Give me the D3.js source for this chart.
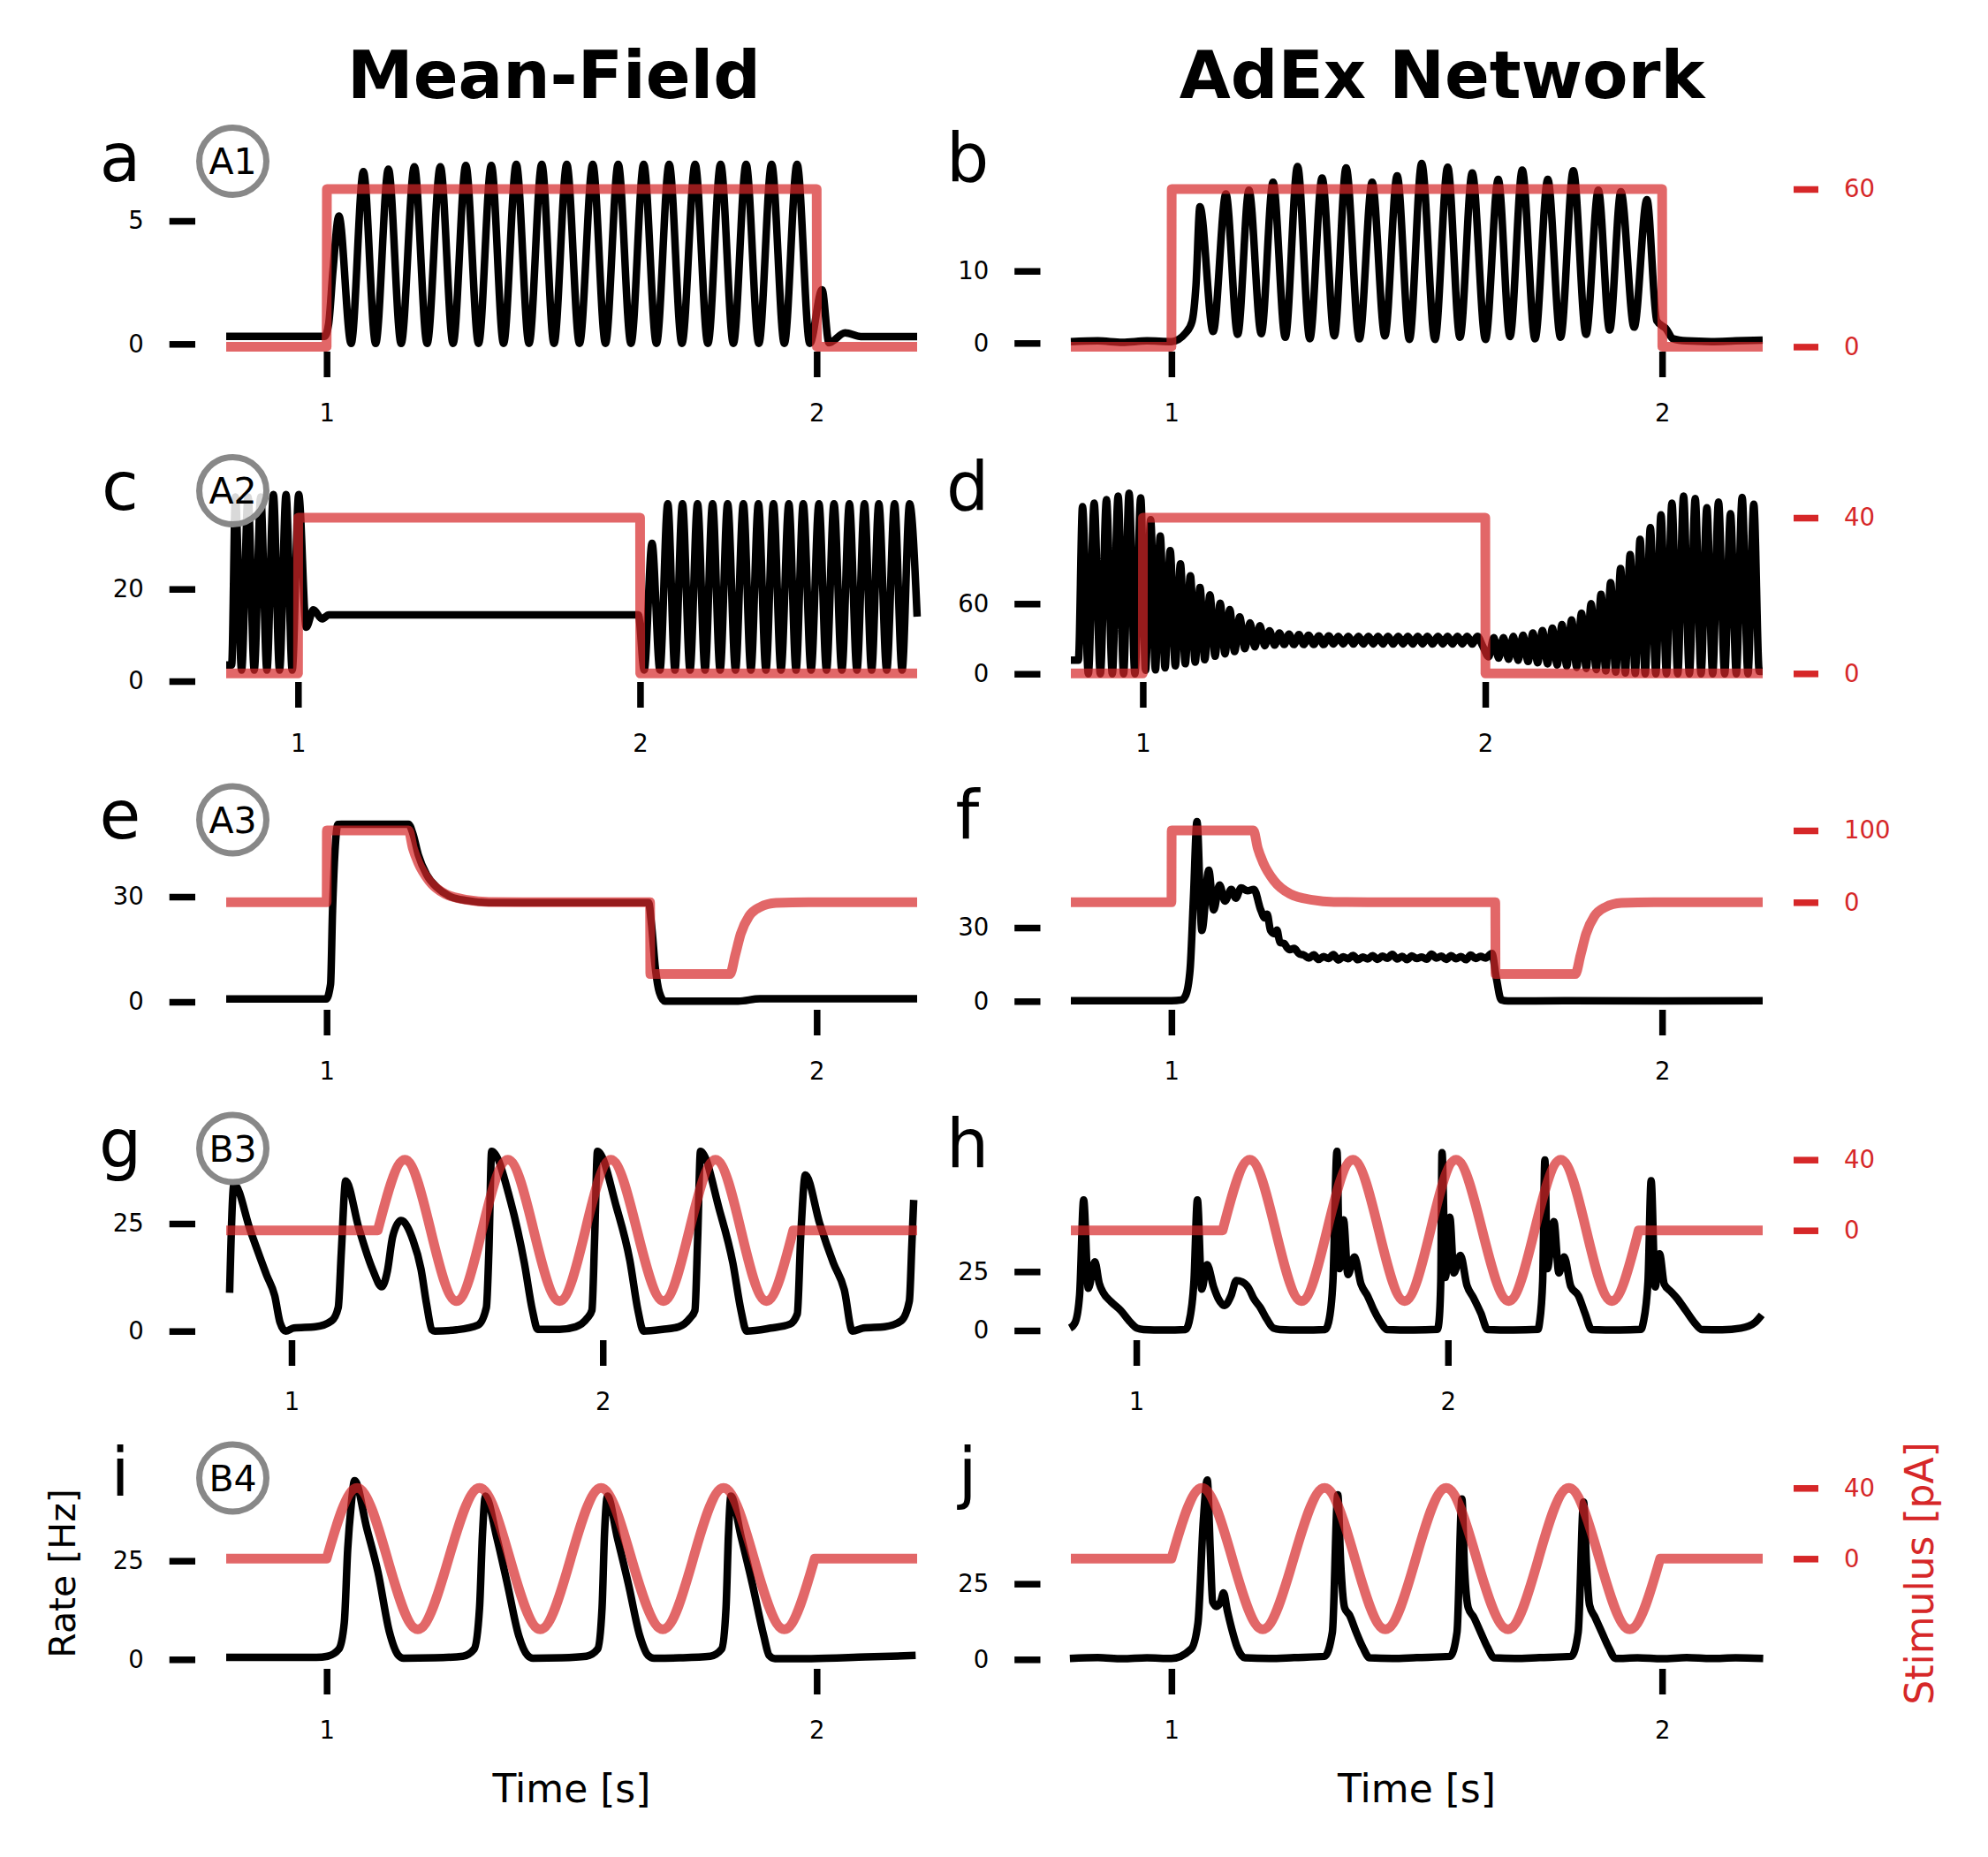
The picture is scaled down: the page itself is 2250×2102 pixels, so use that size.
<!DOCTYPE html>
<html><head><meta charset="utf-8">
<script src="https://cdn.jsdelivr.net/npm/d3@7"></script>
<style>
html,body{margin:0;padding:0;background:#fff;}
svg{display:block;}
text{font-family:"DejaVu Sans",sans-serif;}
</style></head><body>
<svg id="chart" width="2250" height="2102"></svg>
<script>
// ---------------- texts / categories ----------------
const columnTitles = ['Mean-Field', 'AdEx Network'];
const badgeLabels = ['A1', 'A2', 'A3', 'B3', 'B4'];
const xTickValues = [1, 2];
const xLabel = 'Time [s]';
const yLabel = 'Rate [Hz]';
const y2Label = 'Stimulus [pA]';

// ---------------- tick values ----------------
const rateTicksA = [0, 5], rateTicksB = [0, 10], rateTicksC = [0, 20], rateTicksD = [0, 60];
const rateTicksE = [0, 30], rateTicksF = [0, 30], rateTicksG = [0, 25], rateTicksH = [0, 25];
const rateTicksI = [0, 25], rateTicksJ = [0, 25];
const stimTicks1 = [0, 60], stimTicks2 = [0, 40], stimTicks3 = [0, 100], stimTicks4 = [0, 40], stimTicks5 = [0, 40];

// ---------------- time extents (s) ----------------
const tRange1 = [0.795, 2.205], tRange2 = [0.79, 2.81], tRange3 = [0.795, 2.205], tRange4 = [0.79, 3.01], tRange5 = [0.795, 2.205];

// ---------------- stimuli [time s, pA] ----------------
const stim1 = [[0.795,0],[1.0,0],[1.0005,60],[2.0,60],[2.0005,0],[2.205,0]];
const stim2 = [[0.79,0],[1.0,0],[1.0005,40],[2.0,40],[2.0005,0],[2.81,0]];
const stim3 = [[0.795,0],[1.0,0],[1.0005,100],[1.167,100],[1.176,75],[1.187,55],[1.209,30],[1.242,11.5],[1.287,3.3],[1.331,0.4],[1.40,0],[1.66,0],[1.6605,-100],[1.823,-100],[1.834,-73],[1.845,-44],[1.862,-19.4],[1.884,-7],[1.917,-1],[1.983,0],[2.205,0]];
const stim4 = [[0.79,0],[1.277,0],[1.364,40],[1.447,0],[1.530,-40],[1.612,0],[1.695,40],[1.778,0],[1.861,-40],[1.944,0],[2.026,40],[2.110,0],[2.195,-40],[2.278,0],[2.362,40],[2.444,0],[2.526,-40],[2.612,0],[3.01,0]];
const stim5 = [[0.795,0],[1.0,0],[1.062,40],[1.124,0],[1.186,-40],[1.249,0],[1.312,40],[1.374,0],[1.436,-40],[1.498,0],[1.560,40],[1.622,0],[1.686,-40],[1.748,0],[1.810,40],[1.872,0],[1.934,-40],[1.996,0],[2.205,0]];

// ---------------- firing rates [time s, Hz] ----------------
const aRate = [[0.795,0.31],[0.996,0.31],[1.004,0.8],[1.013,3.0],[1.025,5.2],[1.050,0.02],[1.075,7.0],[1.100,0.02],[1.126,7.1],[1.152,0.02],[1.179,7.2],[1.205,0.02],[1.232,7.2],[1.258,0.02],[1.284,7.25],[1.310,0.02],[1.336,7.25],[1.361,0.02],[1.387,7.3],[1.413,0.02],[1.439,7.3],[1.464,0.02],[1.490,7.3],[1.516,0.02],[1.543,7.3],[1.569,0.02],[1.595,7.3],[1.621,0.02],[1.647,7.3],[1.673,0.02],[1.699,7.3],[1.725,0.02],[1.752,7.3],[1.778,0.02],[1.804,7.3],[1.830,0.02],[1.856,7.3],[1.882,0.02],[1.908,7.3],[1.934,0.02],[1.960,7.3],[1.986,0.02],[2.011,2.2],[2.025,0.05],[2.058,0.45],[2.09,0.3],[2.205,0.3]];

const bRate = [[0.795,0.2],[0.85,0.3],[0.9,0.1],[0.95,0.3],[1.0,0.2],[1.029,1.4],[1.042,3.0],[1.050,8],[1.058,18.9],[1.085,1.6],[1.111,20.7],[1.135,1.2],[1.158,21.2],[1.183,1.3],[1.207,22.3],[1.232,0.8],[1.257,24.5],[1.282,0.6],[1.307,22.9],[1.332,1.0],[1.356,24.3],[1.383,0.6],[1.409,22.3],[1.435,1.0],[1.460,23.2],[1.485,0.5],[1.510,24.9],[1.537,0.5],[1.563,24.4],[1.588,0.8],[1.613,23.6],[1.640,0.5],[1.666,22.7],[1.690,0.9],[1.715,24.0],[1.741,0.6],[1.767,22.7],[1.793,0.8],[1.819,23.9],[1.845,1.2],[1.870,21.2],[1.893,1.8],[1.916,21.0],[1.943,2.2],[1.969,19.9],[1.989,3.1],[2.009,1.9],[2.022,0.6],[2.05,0.3],[2.1,0.2],[2.15,0.3],[2.205,0.4]];

const cRate = [[0.79,3.5],[0.806,3.5],[0.817,40],[0.835,2.4],[0.854,40],[0.872,2.4],[0.891,40],[0.909,2.4],[0.928,40.5],[0.946,2.4],[0.965,40.5],[0.983,2.4],[1.002,40.5],[1.024,11.7],[1.045,15.5],[1.070,13.5],[1.090,14.4],[1.995,14.4],[2.012,2.4],[2.035,29.9],[2.058,2.4],[2.081,38.5],[2.102,2.4],[2.124,38.5],[2.146,2.4],[2.168,38.5],[2.190,2.4],[2.212,38.5],[2.234,2.4],[2.256,38.5],[2.279,2.4],[2.302,38.5],[2.324,2.4],[2.346,38.5],[2.368,2.4],[2.390,38.5],[2.412,2.4],[2.435,38.5],[2.456,2.4],[2.477,38.5],[2.500,2.4],[2.523,38.5],[2.545,2.4],[2.567,38.5],[2.590,2.4],[2.612,38.5],[2.634,2.4],[2.656,38.5],[2.677,2.4],[2.698,38.5],[2.721,2.4],[2.744,38.5],[2.766,2.4],[2.788,38.5],[2.81,14]];

const dRate = [[0.79,11.6],[0.812,11.6],[0.824,143],[0.841,0],[0.858,146],[0.876,0],[0.894,149],[0.911,0],[0.928,152],[0.944,0],[0.960,154.5],[0.977,0],[0.994,150.5],[1.008,3],[1.023,131.8],[1.037,3.3],[1.051,117.9],[1.065,5],[1.080,105.4],[1.095,6.8],[1.110,94],[1.124,8.6],[1.139,83.9],[1.153,10],[1.167,73.8],[1.181,12],[1.196,67.6],[1.211,15],[1.226,60.5],[1.240,17],[1.254,55],[1.268,19],[1.283,48.7],[1.298,21.5],[1.313,43.6],[1.327,23],[1.342,41.1],[1.356,24],[1.370,36.8],[1.385,24.5],[1.399,35],[1.413,25],[1.427,34],[1.441,25],[1.456,33.5],[1.470,25],[1.484,33],[1.499,25],[1.514,32.5],[1.528,25],[1.543,32.5],[1.557,25.5],[1.571,32],[1.585,25.5],[1.600,32],[1.615,25.5],[1.630,32],[1.644,25.5],[1.659,32],[1.673,25.5],[1.687,32],[1.701,25.5],[1.716,32],[1.731,25.5],[1.746,32],[1.760,25.5],[1.774,32],[1.788,25.5],[1.803,32],[1.817,25.5],[1.831,32],[1.846,25.5],[1.862,32],[1.876,25.5],[1.890,32],[1.904,25.5],[1.919,32],[1.933,25.5],[1.947,32],[1.962,25.5],[1.977,32],[1.992,24],[2.010,14.6],[2.025,31],[2.039,13.4],[2.053,31],[2.068,12.5],[2.082,32],[2.096,11.5],[2.110,33],[2.125,10.5],[2.139,35],[2.153,9.5],[2.167,37],[2.182,8.5],[2.196,39],[2.210,7.5],[2.224,42],[2.238,6.5],[2.252,46],[2.267,5.5],[2.281,52],[2.295,4.5],[2.309,60],[2.324,3.5],[2.338,68],[2.352,2.5],[2.366,78],[2.381,1.5],[2.395,90],[2.409,0.8],[2.423,102],[2.438,0.3],[2.452,115],[2.467,0],[2.482,125],[2.498,0],[2.513,136],[2.529,0],[2.545,146],[2.562,0],[2.579,152],[2.596,0],[2.613,150],[2.630,0],[2.647,142],[2.664,0],[2.681,147],[2.699,0],[2.716,137],[2.733,0],[2.750,151],[2.767,0],[2.784,145],[2.800,2],[2.81,2]];

const eRate = [[0.795,0.8],[0.999,0.8],[1.008,5],[1.012,26],[1.017,43],[1.023,50.6],[1.030,50.7],[1.167,50.7],[1.176,48],[1.187,42],[1.204,36.3],[1.226,32.5],[1.253,30],[1.287,28.9],[1.331,28.3],[1.657,28.3],[1.663,22],[1.671,9.4],[1.679,2.7],[1.690,0.2],[1.840,0.2],[1.884,0.9],[2.205,0.9]];

const fRate = [[0.795,0.2],[1.0,0.2],[1.020,0.5],[1.029,2.4],[1.038,13],[1.045,43],[1.052,73.2],[1.062,28.8],[1.076,53.4],[1.086,37.2],[1.098,47.4],[1.109,40.8],[1.122,45.6],[1.131,42],[1.142,46.2],[1.155,45],[1.168,45.6],[1.182,37.2],[1.19,34],[1.195,35.5],[1.202,28.8],[1.21,27.5],[1.215,29],[1.221,24],[1.23,23.5],[1.235,22],[1.241,21],[1.25,21.5],[1.261,19.2],[1.27,18.8],[1.28,17.6],[1.29,18.9],[1.30,17.0],[1.31,18.2],[1.32,17.4],[1.33,19.0],[1.34,16.8],[1.35,18.1],[1.36,17.3],[1.37,18.7],[1.38,16.9],[1.39,18.0],[1.40,17.2],[1.41,18.6],[1.42,17.0],[1.43,18.4],[1.44,17.5],[1.45,19.1],[1.46,17.2],[1.47,18.3],[1.48,16.9],[1.49,18.5],[1.50,17.4],[1.51,18.0],[1.52,17.1],[1.53,19.2],[1.54,17.6],[1.55,18.4],[1.56,17.0],[1.57,18.6],[1.58,17.3],[1.59,18.2],[1.60,16.9],[1.61,18.8],[1.62,17.4],[1.63,18.3],[1.64,17.6],[1.653,19.5],[1.662,9.6],[1.672,0.6],[1.686,0.1],[1.8,0.2],[2.0,0.1],[2.205,0.2]];

const gRate = [[0.801,8.9],[0.815,34.2],[0.868,23.3],[0.920,13],[0.946,8.2],[0.963,2],[0.981,0],[1.007,0.7],[1.077,1.0],[1.129,2.4],[1.150,5.5],[1.160,18.5],[1.174,34.9],[1.216,24],[1.260,14.4],[1.290,10.3],[1.308,14],[1.325,22],[1.352,25.7],[1.390,21.2],[1.416,14.4],[1.434,6.2],[1.451,0.3],[1.460,0],[1.530,0.3],[1.599,1.4],[1.626,5.5],[1.634,18.5],[1.643,41.8],[1.704,30.1],[1.748,15.8],[1.774,4.8],[1.791,0.4],[1.861,0.4],[1.913,1.0],[1.950,3],[1.965,4.8],[1.974,21.9],[1.983,41.8],[2.044,28.8],[2.087,16.4],[2.113,4.8],[2.131,0],[2.192,0.4],[2.244,1.0],[2.280,3],[2.296,4.8],[2.305,21.9],[2.314,41.8],[2.375,28.1],[2.418,15.8],[2.444,4.8],[2.462,0],[2.540,0.7],[2.601,1.6],[2.625,4],[2.636,22],[2.651,36.3],[2.697,25],[2.741,15.8],[2.776,9.6],[2.802,0],[2.837,0.7],[2.906,1.0],[2.959,2.4],[2.985,7],[2.993,20],[2.999,30.5]];

const hRate = [[0.787,1],[0.804,3.5],[0.818,15],[0.831,55.4],[0.846,17.9],[0.867,29.1],[0.881,20],[0.894,16],[0.919,12.2],[0.950,8.5],[0.981,3.5],[1.002,1],[1.023,0.4],[1.09,0.2],[1.158,0.4],[1.169,3.5],[1.185,21],[1.196,55.4],[1.210,17.5],[1.227,27.9],[1.248,18.5],[1.263,13.5],[1.283,10.6],[1.304,14.7],[1.321,21.2],[1.340,20.6],[1.360,18.1],[1.377,13.5],[1.398,9.7],[1.419,4.75],[1.440,1],[1.461,0.4],[1.53,0.2],[1.606,0.4],[1.617,3.5],[1.631,21],[1.644,76],[1.652,26.2],[1.665,46.9],[1.679,23.7],[1.700,31.2],[1.721,19.7],[1.742,14.7],[1.763,8.5],[1.784,3.5],[1.804,0.4],[1.89,0.2],[1.966,0.5],[1.971,3.5],[1.977,21],[1.981,75.4],[1.992,22.5],[2.006,48.1],[2.019,24.4],[2.040,31.9],[2.061,19.1],[2.081,14.1],[2.106,7.2],[2.127,0.4],[2.21,0.2],[2.289,0.5],[2.294,3.5],[2.304,21],[2.311,72.3],[2.319,26.2],[2.340,46.2],[2.356,24.4],[2.373,31.2],[2.394,18.8],[2.419,14.7],[2.440,7.2],[2.461,0.4],[2.55,0.2],[2.620,0.5],[2.627,3.5],[2.642,21],[2.652,63.5],[2.665,18.5],[2.679,32.5],[2.694,19.7],[2.715,16.6],[2.736,13.5],[2.763,8.5],[2.790,3.5],[2.815,0.4],[2.88,0.3],[2.940,1],[2.986,3.5],[3.007,6.6]];

const iRate = [[0.795,0.5],[0.979,0.5],[1.002,0.8],[1.025,2.6],[1.036,9.3],[1.043,28],[1.050,39],[1.057,45.3],[1.082,33.2],[1.105,22],[1.128,7],[1.146,1.1],[1.157,0.3],[1.22,0.4],[1.278,0.8],[1.301,2.6],[1.312,13],[1.318,31.7],[1.324,41.4],[1.347,31],[1.369,19],[1.392,6],[1.410,1],[1.421,0.3],[1.48,0.4],[1.530,0.8],[1.553,2.6],[1.562,13],[1.567,31.7],[1.573,41.4],[1.593,31],[1.616,19],[1.639,6],[1.656,1],[1.668,0.3],[1.72,0.4],[1.783,0.8],[1.806,2.6],[1.815,13],[1.820,31.7],[1.825,41.4],[1.846,31],[1.869,19],[1.892,6],[1.903,1],[1.915,0.2],[1.989,0.2],[2.10,0.6],[2.202,1.0]];

const jRate = [[0.793,0.3],[0.85,0.6],[0.90,0.2],[0.95,0.5],[1.00,0.3],[1.040,3.4],[1.054,12],[1.065,46],[1.073,59.3],[1.079,36.5],[1.084,19],[1.092,17.5],[1.101,19.4],[1.106,22],[1.114,16],[1.123,10],[1.134,4],[1.150,0.5],[1.20,0.3],[1.25,0.6],[1.312,1.0],[1.328,9],[1.339,54.4],[1.345,31.6],[1.353,17],[1.363,14.6],[1.376,9.2],[1.390,4],[1.404,0.5],[1.45,0.3],[1.50,0.6],[1.568,1.0],[1.582,9],[1.592,53],[1.597,31],[1.605,17],[1.616,14],[1.630,9],[1.644,4],[1.658,0.5],[1.70,0.3],[1.75,0.6],[1.815,1.0],[1.829,9],[1.840,52],[1.846,31],[1.852,18],[1.863,14],[1.877,9],[1.891,4],[1.905,0.3],[1.95,0.5],[2.0,0.2],[2.05,0.6],[2.10,0.3],[2.15,0.5],[2.206,0.3]];

// ---------------- layout (pixels) ----------------
const RED = '#d62728';
const FONT = '"DejaVu Sans", sans-serif';
const COLS = [
  {x0:256, x1:1038, axisX:221, letterX:136, titleX:627, xlabelX:647},
  {x0:1212, x1:1995, axisX:1177.5, letterX:1095, titleX:1632, xlabelX:1603.5}
];
const ROWS = [
  {tickY:398,  letterY:205,  badgeY:182.5, stimY:[392.4,214]},
  {tickY:772,  letterY:577,  badgeY:555.5, stimY:[762.3,586]},
  {tickY:1143, letterY:949,  badgeY:928,   stimY:[1021.3,940]},
  {tickY:1517, letterY:1321, badgeY:1300,  stimY:[1392.7,1312.7]},
  {tickY:1889, letterY:1693, badgeY:1673,  stimY:[1764.3,1684.3]}
];
const RATE_Y = {a:[389.3,250], b:[388.3,306.7], c:[771,666.7], d:[762.7,683.3], e:[1134,1015],
                f:[1133.3,1050], g:[1506.7,1385], h:[1506,1439.3], i:[1878.3,1766.7], j:[1878.3,1792.7]};

const panels = [
  {L:'a', row:0, col:0, rate:aRate, rTicks:rateTicksA, stim:stim1, sTicks:stimTicks1, t:tRange1, sCurve:'linear'},
  {L:'b', row:0, col:1, rate:bRate, rTicks:rateTicksB, stim:stim1, sTicks:stimTicks1, t:tRange1, sCurve:'linear'},
  {L:'c', row:1, col:0, rate:cRate, rTicks:rateTicksC, stim:stim2, sTicks:stimTicks2, t:tRange2, sCurve:'linear'},
  {L:'d', row:1, col:1, rate:dRate, rTicks:rateTicksD, stim:stim2, sTicks:stimTicks2, t:tRange2, sCurve:'linear'},
  {L:'e', row:2, col:0, rate:eRate, rTicks:rateTicksE, stim:stim3, sTicks:stimTicks3, t:tRange3, sCurve:'monotone'},
  {L:'f', row:2, col:1, rate:fRate, rTicks:rateTicksF, stim:stim3, sTicks:stimTicks3, t:tRange3, sCurve:'monotone'},
  {L:'g', row:3, col:0, rate:gRate, rTicks:rateTicksG, stim:stim4, sTicks:stimTicks4, t:tRange4, sCurve:'sine'},
  {L:'h', row:3, col:1, rate:hRate, rTicks:rateTicksH, stim:stim4, sTicks:stimTicks4, t:tRange4, sCurve:'sine'},
  {L:'i', row:4, col:0, rate:iRate, rTicks:rateTicksI, stim:stim5, sTicks:stimTicks5, t:tRange5, sCurve:'sine'},
  {L:'j', row:4, col:1, rate:jRate, rTicks:rateTicksJ, stim:stim5, sTicks:stimTicks5, t:tRange5, sCurve:'sine'}
];

const svg = d3.select('#chart');
svg.append('rect').attr('width', 2250).attr('height', 2102).attr('fill', '#fff');

function stimPath(data, mode, x, y) {
  const lin = d3.line().x(d => x(d[0])).y(d => y(d[1]));
  if (mode === 'linear') return lin(data);
  if (mode === 'monotone') return lin.curve(d3.curveMonotoneX)(data);
  const s = data.findIndex(d => d[1] !== 0) - 1;
  let e = data.length - 1;
  while (data[e][1] === 0) e--;
  e++;
  const nat = d3.line().x(d => x(d[0])).y(d => y(d[1])).curve(d3.curveNatural);
  const parts = [lin(data.slice(0, s + 1)), nat(data.slice(s, e + 1)), lin(data.slice(e))];
  return parts.map((p, i) => i ? p.replace(/^M/, 'L') : p).join('');
}

panels.forEach((p) => {
  const C = COLS[p.col], R = ROWS[p.row];
  const x = d3.scaleLinear().domain(p.t).range([C.x0, C.x1]);
  const y = d3.scaleLinear().domain([0, p.rTicks[1]]).range(RATE_Y[p.L]);
  const ys = d3.scaleLinear().domain([0, p.sTicks[1]]).range(R.stimY);
  const g = svg.append('g');

  const rateLine = d3.line().x(d => x(d[0])).y(d => y(d[1])).curve(d3.curveMonotoneX);
  g.append('path').datum(p.rate).attr('d', rateLine)
    .attr('fill', 'none').attr('stroke', '#000').attr('stroke-width', 8.5)
    .attr('stroke-linejoin', 'round').attr('stroke-linecap', 'butt');

  g.append('path').attr('d', stimPath(p.stim, p.sCurve, x, ys))
    .attr('fill', 'none').attr('stroke', RED).attr('stroke-opacity', 0.7).attr('stroke-width', 11)
    .attr('stroke-linejoin', 'round').attr('stroke-linecap', 'butt');

  const ga = svg.append('g').attr('transform', `translate(${C.axisX},0)`)
    .call(d3.axisLeft(y).tickValues(p.rTicks).tickSize(29.3).tickPadding(29).tickFormat(d3.format('d')));
  ga.select('.domain').remove();
  ga.attr('font-family', FONT).attr('font-size', 27.5);
  ga.selectAll('line').attr('stroke', '#000').attr('stroke-width', 7.5);
  ga.selectAll('text').attr('fill', '#000');

  const gx = svg.append('g').attr('transform', `translate(0,${R.tickY})`)
    .call(d3.axisBottom(x).tickValues(xTickValues).tickSize(29).tickFormat(d3.format('d')));
  gx.select('.domain').remove();
  gx.attr('font-family', FONT).attr('font-size', 27.5);
  gx.selectAll('line').attr('stroke', '#000').attr('stroke-width', 7.5);
  gx.selectAll('text').attr('fill', '#000').attr('y', 69.5).attr('dy', '0.35em');

  if (p.col === 1) {
    const gr = svg.append('g').attr('transform', 'translate(2030,0)')
      .call(d3.axisRight(ys).tickValues(p.sTicks).tickSize(28).tickPadding(29).tickFormat(d3.format('d')));
    gr.select('.domain').remove();
    gr.attr('font-family', FONT).attr('font-size', 27.5);
    gr.selectAll('line').attr('stroke', RED).attr('stroke-width', 7.5);
    gr.selectAll('text').attr('fill', RED);
  }

  svg.append('text').attr('x', C.letterX).attr('y', R.letterY).attr('text-anchor', 'middle')
    .attr('font-family', FONT).attr('font-size', 76).attr('fill', '#000').text(p.L);

  if (p.col === 0) {
    svg.append('circle').attr('cx', 263.5).attr('cy', R.badgeY).attr('r', 38)
      .attr('fill', '#fff').attr('fill-opacity', 0.85).attr('stroke', '#888').attr('stroke-width', 7);
    svg.append('text').attr('x', 263.5).attr('y', R.badgeY).attr('dy', '0.36em').attr('text-anchor', 'middle')
      .attr('font-family', FONT).attr('font-size', 41).attr('fill', '#000').text(badgeLabels[p.row]);
  }
});

columnTitles.forEach((t, i) => {
  svg.append('text').attr('x', COLS[i].titleX).attr('y', 110.7).attr('text-anchor', 'middle')
    .attr('font-family', FONT).attr('font-weight', 'bold').attr('font-size', 75).attr('fill', '#000').text(t);
  svg.append('text').attr('x', COLS[i].xlabelX).attr('y', 2040).attr('text-anchor', 'middle')
    .attr('font-family', FONT).attr('font-size', 44).attr('fill', '#000').text(xLabel);
});

svg.append('text').attr('transform', 'translate(72,1781) rotate(-90)').attr('dy', '0.31em')
  .attr('text-anchor', 'middle').attr('font-family', FONT).attr('font-size', 41).attr('fill', '#000').text(yLabel);
svg.append('text').attr('transform', 'translate(2174,1781) rotate(-90)').attr('dy', '0.31em')
  .attr('text-anchor', 'middle').attr('font-family', FONT).attr('font-size', 44).attr('fill', RED).text(y2Label);
</script></body></html>
